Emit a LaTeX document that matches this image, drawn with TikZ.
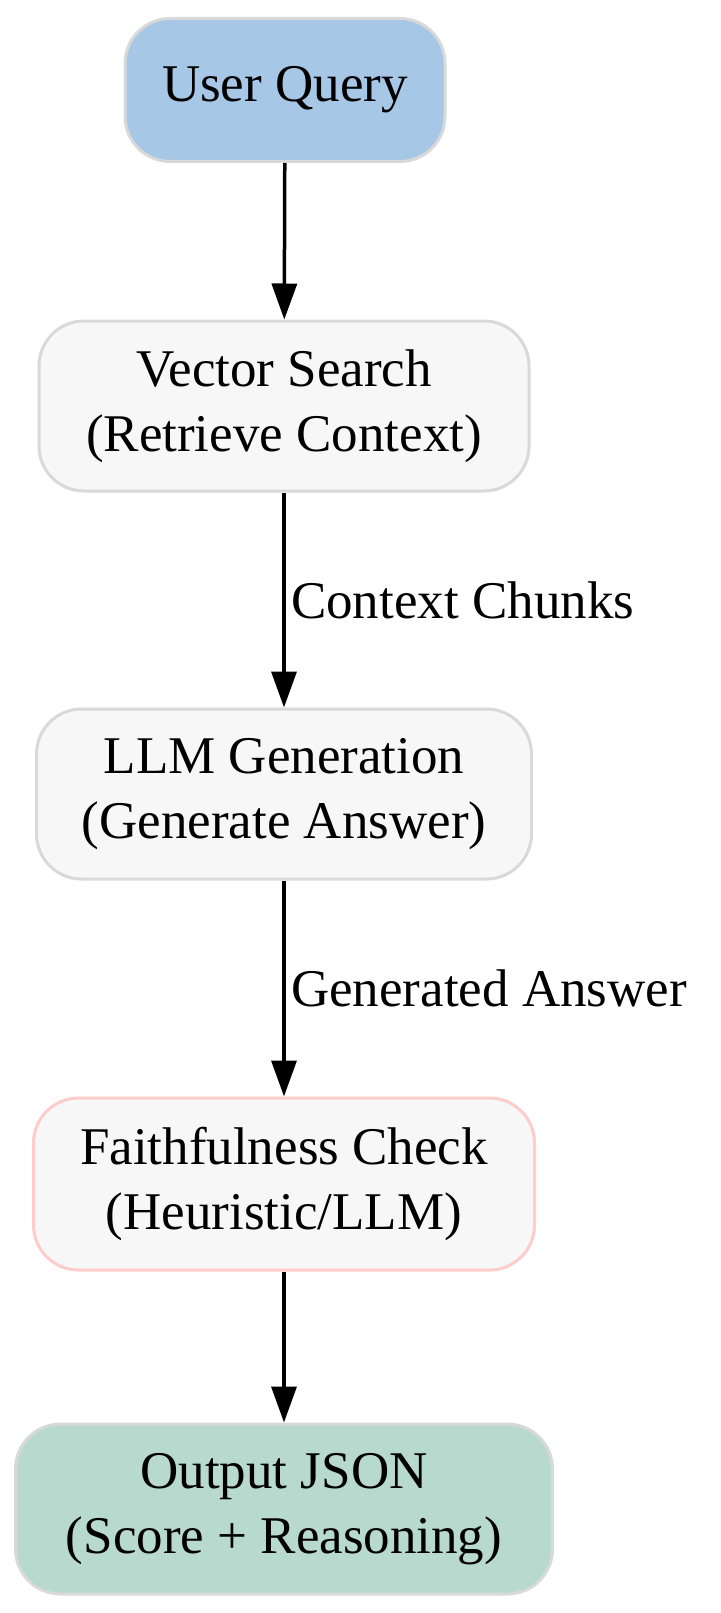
\documentclass[tikz,border=0pt]{standalone}
\usepackage{fontspec}
\setmainfont{Liberation Serif}
\usetikzlibrary{arrows.meta}
\definecolor{qblue}{HTML}{A7C7E7}
\definecolor{qgreen}{HTML}{B7D9CE}
\definecolor{qgrey}{HTML}{F7F7F7}
\definecolor{qborder}{HTML}{D9D9D9}
\definecolor{qpink}{HTML}{FFCCCC}
\begin{document}
\begin{tikzpicture}[x=1pt,y=-1pt,
  box/.style={draw=qborder,line width=3pt,rounded corners=45pt,fill=qgrey,align=center,
    font=\fontsize{53}{65}\selectfont,inner sep=0pt},
  arr/.style={line width=3.5pt,-{Triangle[length=36pt,width=25pt]}},
  lab/.style={font=\fontsize{53}{65}\selectfont,anchor=west}]
\useasboundingbox (0,0) rectangle (720,1613);
\node[box,fill=qblue,minimum width=320pt,minimum height=143pt] (q) at (285,90) {User Query};
\node[box,minimum width=490pt,minimum height=170pt] (v) at (284,406) {Vector Search\\(Retrieve Context)};
\node[box,minimum width=495pt,minimum height=170pt] (l) at (284,794) {LLM Generation\\(Generate Answer)};
\node[box,draw=qpink,minimum width=501pt,minimum height=172pt] (f) at (284,1184) {Faithfulness Check\\(Heuristic/LLM)};
\node[box,fill=qgreen,minimum width=537pt,minimum height=170pt] (o) at (284,1509) {Output JSON\\(Score + Reasoning)};
\draw[arr] (q) -- (v);
\draw[arr] (v) -- node[lab,xshift=2pt] (c1) {Context Chunks} (l);
\draw[arr] (l) -- node[lab,xshift=2pt] (c2) {Generated Answer} (f);
\draw[arr] (f) -- (o);
\end{tikzpicture}
\end{document}
